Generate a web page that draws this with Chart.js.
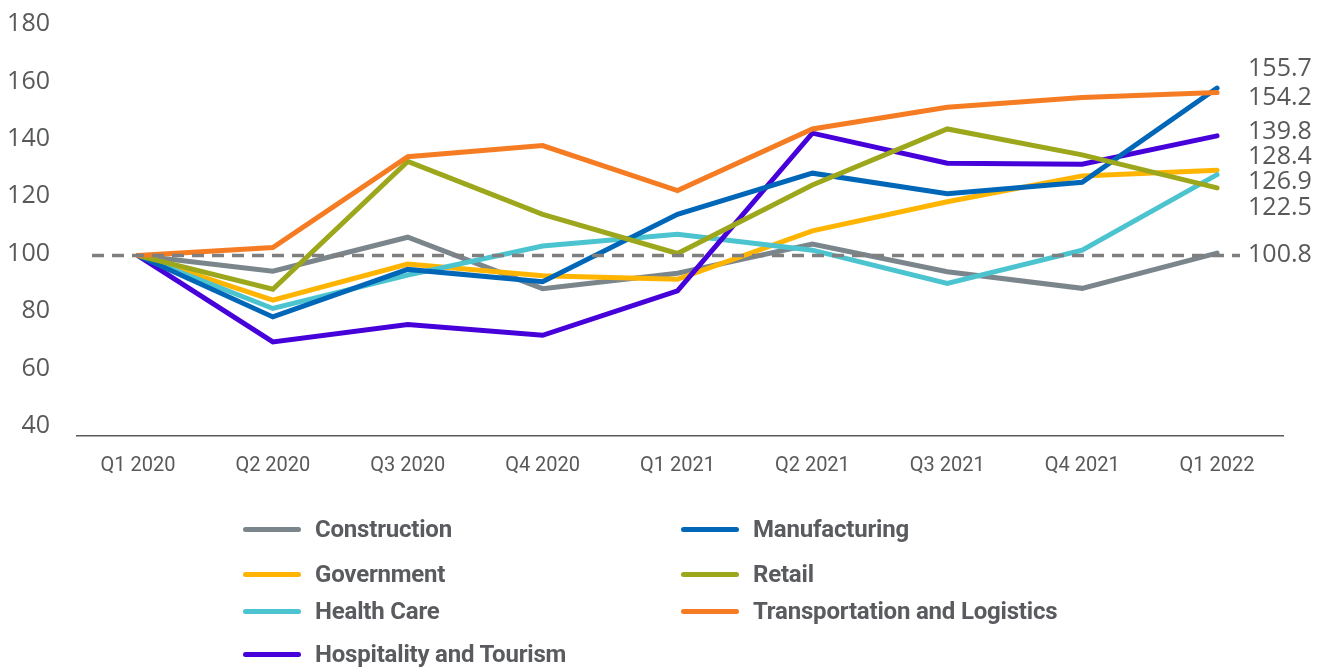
<!DOCTYPE html>
<html>
<head>
<meta charset="utf-8">
<script src="https://cdn.jsdelivr.net/npm/chart.js@4.4.1/dist/chart.umd.min.js"></script>
<style>
  html, body { margin: 0; padding: 0; background: #ffffff; }
  #wrap { position: relative; width: 1330px; height: 667px; overflow: hidden; }
  #c { position: absolute; left: 0; top: 0; }
  .lg { position: absolute; display: flex; align-items: center; height: 30px;
        font-family: 'Liberation Sans Narrow', 'Arial Narrow', 'Roboto', sans-serif;
        font-weight: bold; font-size: 24px; color: #595b5f; white-space: nowrap; letter-spacing: -0.2px; }
  .lg .sw { width: 58px; height: 5px; border-radius: 3px; margin-right: 14px; }
</style>
</head>
<body>
<div id="wrap">
  <canvas id="c" width="1330" height="667"></canvas>
</div>
<script>
// ---------- data ----------
const categories = ['Q1 2020','Q2 2020','Q3 2020','Q4 2020','Q1 2021','Q2 2021','Q3 2021','Q4 2021','Q1 2022'];
const seriesNames = ['Construction','Government','Health Care','Hospitality and Tourism','Manufacturing','Retail','Transportation and Logistics'];
const construction   = [100, 94.8, 106.1, 89.0, 94.1, 103.8, 94.6, 89.1, 100.8];
const government     = [100, 85.2, 97.2, 93.3, 92.1, 108.2, 117.9, 126.5, 128.4];
const healthCare     = [100, 82.4, 93.5, 103.2, 107.1, 101.8, 90.7, 101.8, 126.9];
const hospitality    = [100, 71.3, 77.1, 73.5, 88.3, 140.7, 130.7, 130.4, 139.8];
const manufacturing  = [100, 79.6, 95.4, 91.3, 113.7, 127.4, 120.6, 124.4, 155.7];
const retail         = [100, 88.8, 131.3, 113.7, 100.7, 123.5, 142.1, 133.5, 122.5];
const transportation = [100, 102.7, 132.9, 136.6, 121.6, 142.1, 149.3, 152.6, 154.2];
const yTickValues = [40, 60, 80, 100, 120, 140, 160, 180];
const baselineValue = 100;

// ---------- styles ----------
const seriesColors = ['#7B868C','#FFB500','#4CC4D0','#4600D9','#0067B8','#9CA71C','#F57C22'];
const endLabelNudge = [2, -13, 7, -4, -19, 20, 5];   // px offsets to keep end labels apart
const legendCols = [243, 681];
const legendRowCenters = [529, 574, 611, 654];
const textColor = '#58595b';

const allSeries = [construction, government, healthCare, hospitality, manufacturing, retail, transportation];

const datasets = allSeries.map((vals, i) => ({
  label: seriesNames[i],
  data: vals.map((v, k) => ({ x: k, y: v })),
  borderColor: seriesColors[i],
  backgroundColor: seriesColors[i],
  borderWidth: 5,
  borderCapStyle: 'round',
  borderJoinStyle: 'miter',
  pointRadius: 0,
  pointHoverRadius: 0,
  tension: 0,
  fill: false,
  order: allSeries.length - i
}));

const baselinePlugin = {
  id: 'baseline',
  afterDatasetsDraw(chart) {
    const { ctx, chartArea, scales } = chart;
    const y = scales.y.getPixelForValue(baselineValue);
    ctx.save();
    ctx.strokeStyle = '#7f7f7f';
    ctx.lineWidth = 3.5;
    ctx.setLineDash([12, 8]);
    ctx.beginPath();
    ctx.moveTo(chartArea.left + 15, y);
    ctx.lineTo(scales.x.getPixelForValue(categories.length - 1) + 23, y);
    ctx.stroke();
    ctx.restore();
  }
};

const endLabelPlugin = {
  id: 'endLabels',
  afterDraw(chart) {
    const { ctx, scales } = chart;
    const last = categories.length - 1;
    const x = scales.x.getPixelForValue(last) + 31;
    ctx.save();
    ctx.font = '25px "Open Sans", sans-serif';
    ctx.fillStyle = textColor;
    ctx.textAlign = 'left';
    ctx.textBaseline = 'middle';
    allSeries.forEach((vals, i) => {
      const v = vals[last];
      const y = scales.y.getPixelForValue(v) + endLabelNudge[i];
      ctx.fillText(v.toFixed(1), x, y);
    });
    ctx.restore();
  }
};

new Chart(document.getElementById('c'), {
  type: 'line',
  data: { datasets },
  options: {
    responsive: false,
    animation: false,
    events: [],
    layout: { padding: { top: 15, right: 47, bottom: 171, left: 0 } },
    plugins: { legend: { display: false }, tooltip: { enabled: false } },
    scales: {
      x: {
        type: 'linear',
        min: -0.452,
        max: 8.489,
        afterBuildTicks: (s) => { s.ticks = categories.map((c, i) => ({ value: i })); },
        afterFit: (s) => { s.height = 60; s.paddingLeft = 0; s.paddingRight = 0; },
        grid: { display: false, drawTicks: false },
        border: { display: true, color: '#5a5a5a', width: 1.5 },
        ticks: {
          autoSkip: false, maxRotation: 0, padding: 18,
          color: textColor,
          font: { family: "'Liberation Sans Narrow', 'Arial Narrow', 'Roboto', sans-serif", size: 20 },
          callback: (v) => categories[v]
        }
      },
      y: {
        display: false,
        min: 40,
        max: 180
      },
      yl: {
        position: 'left',
        min: 36.52,
        max: 183.13,
        afterBuildTicks: (s) => { s.ticks = yTickValues.map(v => ({ value: v })); },
        afterFit: (s) => { s.width = 77; s.paddingTop = 0; s.paddingBottom = 0; },
        grid: { display: false, drawTicks: false },
        border: { display: false },
        ticks: {
          padding: 27,
          color: textColor,
          font: { family: "'Open Sans', sans-serif", size: 25, lineHeight: 1 }
        }
      }
    }
  },
  plugins: [baselinePlugin, endLabelPlugin]
});

// ---------- HTML legend built from the datasets ----------
const wrap = document.getElementById('wrap');
seriesNames.forEach((name, i) => {
  const col = i < 4 ? 0 : 1;
  const row = i < 4 ? i : i - 4;
  const item = document.createElement('div');
  item.className = 'lg';
  item.style.left = legendCols[col] + 'px';
  item.style.top = (legendRowCenters[row] - 15) + 'px';
  const sw = document.createElement('span');
  sw.className = 'sw';
  sw.style.background = seriesColors[i];
  const tx = document.createElement('span');
  tx.textContent = name;
  item.appendChild(sw);
  item.appendChild(tx);
  wrap.appendChild(item);
});
</script>
</body>
</html>
